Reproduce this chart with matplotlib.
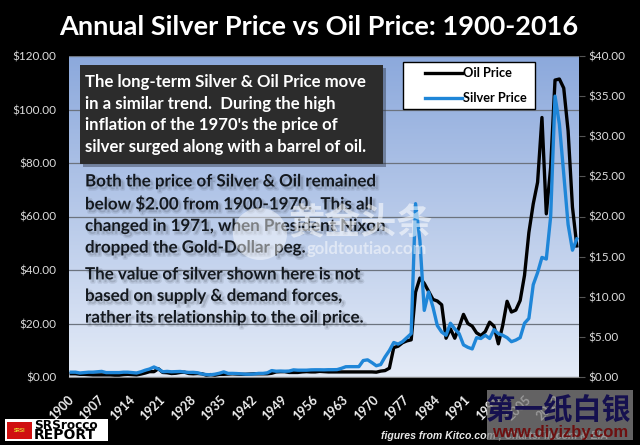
import numpy as np
import matplotlib
matplotlib.use("Agg")
import matplotlib.pyplot as plt
import matplotlib.patheffects as pe
from matplotlib.patches import Rectangle, Ellipse
from matplotlib.transforms import ScaledTranslation

years = list(range(1900, 2017))
oil_price = [1.2, 1.2, 1.0, 1.0, 0.9, 0.8, 0.8, 0.8, 0.8, 0.8, 0.7, 0.7, 0.9, 1.0, 0.9, 0.8, 1.1, 1.5, 2.0, 2.0,
             3.1, 1.7, 1.6, 1.3, 1.4, 1.7, 1.8, 1.3, 1.2, 1.3, 1.2, 0.7, 0.9, 0.7, 1.0, 1.0, 1.1, 1.2, 1.1, 1.0,
             1.0, 1.1, 1.2, 1.2, 1.2, 1.2, 1.4, 1.9, 2.0, 2.0, 1.7, 1.7, 1.7, 1.9, 2.0, 1.9, 1.9, 2.1, 2.0, 1.9,
             1.9, 1.9, 1.9, 1.9, 1.9, 1.9, 1.9, 1.9, 1.9, 1.9, 1.8, 2.2, 2.4, 3.3, 11.0, 11.5, 12.8, 13.5, 13.9, 31.7,
             37.0, 35.0, 32.0, 29.0, 28.4, 27.0, 14.5, 18.0, 14.5, 18.7, 23.4, 20.0, 19.0, 16.5, 15.5, 17.0, 20.5, 19.0, 12.4, 19.3,
             28.3, 24.3, 25.0, 28.6, 38.0, 54.0, 64.7, 72.8, 97.0, 61.0, 78.4, 111.0, 111.4, 108.0, 92.0, 63.5, 49.0]
silver_price = [0.6, 0.6, 0.5, 0.55, 0.6, 0.6, 0.65, 0.7, 0.55, 0.55, 0.55, 0.55, 0.6, 0.6, 0.55, 0.5, 0.65, 0.85, 1.0, 1.25,
                1.0, 0.65, 0.7, 0.65, 0.67, 0.69, 0.62, 0.57, 0.58, 0.53, 0.38, 0.3, 0.28, 0.35, 0.47, 0.64, 0.45, 0.45, 0.43, 0.39,
                0.35, 0.35, 0.38, 0.45, 0.45, 0.52, 0.8, 0.72, 0.74, 0.72, 0.74, 0.89, 0.85, 0.85, 0.85, 0.89, 0.9, 0.9, 0.89, 0.91,
                0.91, 0.92, 1.08, 1.28, 1.29, 1.29, 1.29, 2.05, 2.14, 1.79, 1.4, 1.55, 2.5, 3.3, 4.3, 4.1, 4.4, 4.9, 5.4, 21.6,
                17.0, 8.3, 10.6, 8.7, 6.4, 5.6, 5.2, 6.7, 6.0, 5.4, 4.0, 3.7, 3.5, 4.9, 4.8, 5.2, 4.8, 5.9, 5.4, 5.2,
                4.9, 4.4, 4.6, 4.9, 6.7, 7.3, 11.5, 13.0, 14.9, 14.7, 20.0, 35.0, 31.5, 25.3, 19.0, 15.8, 17.2]
tick_years = list(range(1900, 2017, 7))
left_ticks = [0, 20, 40, 60, 80, 100, 120]
right_ticks = [0, 5, 10, 15, 20, 25, 30, 35, 40]
title = "Annual Silver Price vs Oil Price: 1900-2016"
box_text = ("The long-term Silver & Oil Price move\nin a similar trend.  During the high\n"
            "inflation of the 1970's the price of\nsilver surged along with a barrel of oil.")
para_1 = ("Both the price of Silver & Oil remained\nbelow \\$2.00 from 1900-1970.  This all\n"
          "changed in 1971, when President Nixon\ndropped the Gold-Dollar peg.")
para_2 = ("The value of silver shown here is not\nbased on supply & demand forces,\n"
          "rather its relationship to the oil price.")

W, H = 640, 445
def fx(px): return px / W
def fy(py): return 1 - py / H
def frect(x0, y0, x1, y1, **kw):
    r = Rectangle((fx(x0), fy(y1)), (x1 - x0) / W, (y1 - y0) / H, transform=fig.transFigure, figure=fig, **kw)
    fig.patches.append(r)
    return r

plt.rcParams['font.family'] = ['Lato', 'DejaVu Sans']
fig = plt.figure(figsize=(6.4, 4.45), dpi=100, facecolor='black')
ax = fig.add_axes([fx(69), fy(377), (579 - 69) / W, (377 - 56) / H])
ax2 = ax.twinx()
ax.set_zorder(1); ax2.set_zorder(2)
ax.set_facecolor('none'); ax2.set_facecolor('none')

bg = fig.add_axes(ax.get_position(), zorder=0)
bg.axis('off')
c_top = np.array([0x8c, 0xa9, 0xdc]); c_bot = np.array([0xe4, 0xeb, 0xf7])
t = np.linspace(0, 1, 256)[:, None, None]
bg.imshow(c_top[None, None, :] * (1 - t) / 255 + c_bot[None, None, :] * t / 255, aspect='auto')

ax.set_xlim(1899.5, 2016.5)
ax.set_ylim(0, 120); ax2.set_ylim(0, 40)
ax.set_yticks(left_ticks); ax.set_yticklabels([f"${v:.2f}" for v in left_ticks])
ax2.set_yticks(right_ticks); ax2.set_yticklabels([f"${v:.2f}" for v in right_ticks])
ax.set_xticks(tick_years); ax.set_xticklabels([str(y) for y in tick_years], rotation=45, ha='right', rotation_mode='anchor')
ax.grid(axis='y', color='#6c737e', lw=0.9)
ax.set_axisbelow(True)
for a in (ax, ax2):
    for s in a.spines.values():
        s.set_visible(False)
ax.spines['bottom'].set_visible(True); ax.spines['bottom'].set_color('#8a8a8a')
ax.tick_params(axis='x', length=0, colors='#f0f0f0', labelsize=9, pad=12)
shift = ScaledTranslation(-4 / 100, 0, fig.dpi_scale_trans)
for lab in ax.get_xticklabels():
    lab.set_fontweight('bold')
    lab.set_transform(lab.get_transform() + shift)
ax.tick_params(axis='y', length=0, colors='#dcdcdc', labelsize=8.5, pad=9)
ax2.tick_params(axis='y', length=4, color='#555555', labelcolor='#dcdcdc', labelsize=8.5, pad=3)

l1, = ax.plot(years, oil_price, color='black', lw=2.4, solid_joinstyle='round', label='Oil Price', zorder=3)
l2, = ax2.plot(years, silver_price, color='#1f86d8', lw=2.4, solid_joinstyle='round', label='Silver Price', zorder=4)

frect(403, 62, 535, 109, facecolor='white', edgecolor='black', lw=1, zorder=5.5)
leg = fig.legend(handles=[l1, l2], loc='upper left', bbox_to_anchor=(fx(425), fy(67)),
                 frameon=False, handlelength=2.9, handletextpad=0.1, labelspacing=1.05, borderaxespad=0, borderpad=0,
                 prop={'family': 'Lato', 'weight': 'bold', 'size': 9.2})
leg.set_zorder(6)

fig.text(fx(319), fy(27), title, color='white', fontsize=19.5, weight='bold', ha='center', va='center', zorder=10)

# dark text box with soft shadow
frect(83, 68, 386, 167, facecolor='#30394a', alpha=.45, edgecolor='none', zorder=4.9)
frect(80, 65, 383, 164, facecolor='#2c2c2c', edgecolor='none', zorder=5)
fig.text(fx(85), fy(114.5), box_text, color='white', fontsize=12.1, weight='bold', ha='left', va='center',
         linespacing=1.43, zorder=7)
shadow = [pe.Stroke(linewidth=2.2, foreground='#505866', alpha=.14, offset=(2, -2)),
          pe.Normal()]
for txt, yy, sz in ((para_1, 214.5, 12.2), (para_2, 296, 12.2)):
    fig.text(fx(85), fy(yy), txt, color='#14191f', fontsize=sz, weight='bold', ha='left', va='center',
             linespacing=1.43, zorder=7, path_effects=shadow)

# translucent site watermark
fig.patches.append(Ellipse((fx(260), fy(234)), 54 / W, 52 / H, transform=fig.transFigure, figure=fig,
                           facecolor='white', alpha=.45, edgecolor='none', zorder=8))
fig.text(fx(360), fy(223), "黄金头条", family=['Noto Sans CJK SC', 'DejaVu Sans'], color='white', alpha=.55,
         fontsize=26, weight='bold', ha='center', va='center', zorder=8)
fig.text(fx(367), fy(249), "goldtoutiao.com", color='white', alpha=.5, fontsize=12, weight='bold',
         ha='center', va='center', zorder=8)

# footer
fig.text(fx(381), fy(436), "figures from Kitco.com , ChartsFill.com & EIA", family='Liberation Sans', style='italic',
         color='#e8e8e8', fontsize=7.6, weight='bold', ha='left', va='center', zorder=9)
frect(487, 390, 633, 440, facecolor='#807f80', alpha=.78, edgecolor='none', zorder=10)
fig.text(fx(559), fy(410), "第一纸白银", family=['Noto Sans CJK SC', 'DejaVu Sans'], color='#15104f', fontsize=21,
         weight='bold', ha='center', va='center', zorder=11)
fig.text(fx(560), fy(432), "www.diyizby.com", family='Liberation Sans', color='#6d1010', fontsize=12, weight='bold',
         ha='center', va='center', zorder=11)

# logo
frect(5, 419, 108, 441, facecolor='white', edgecolor='none', zorder=5)
frect(7, 422, 32, 439, facecolor='#d01010', edgecolor='none', zorder=6)
fig.text(fx(19.5), fy(430.5), "SRSI", family='Liberation Sans', color='#e8e030', fontsize=3.5, weight='bold',
         ha='center', va='center', zorder=7)
fig.text(fx(34), fy(425.5), "SRSrocco", family='DejaVu Sans', color='black', fontsize=8.7, weight='bold',
         ha='left', va='center', zorder=7)
fig.text(fx(34), fy(435), "REPORT", family='DejaVu Sans', color='black', fontsize=10, weight='bold',
         ha='left', va='center', zorder=7)

fig.savefig('out.png', dpi=100, facecolor='black')
